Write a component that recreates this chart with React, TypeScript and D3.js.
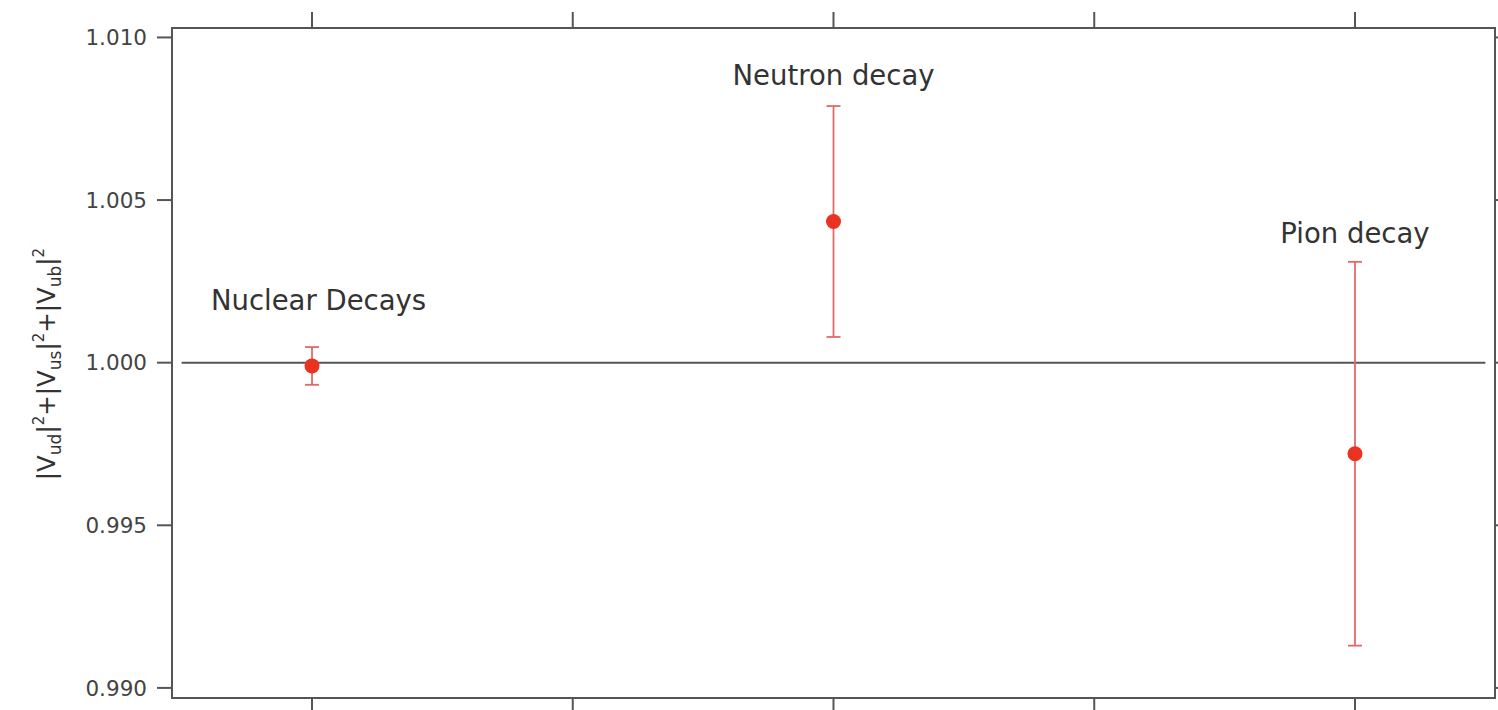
import React from "react";
import * as d3 from "d3";

const categories = ["Nuclear Decays", "Neutron decay", "Pion decay"];
const positions = [0, 2, 4];
const values = [0.9999, 1.00434, 0.9972];
const errors = [0.00058, 0.00355, 0.0059];
const labelValues = [1.00162, 1.00854, 1.00368];
const labelPositions = [0.025, 0.0, 0.0];
const xTicks = [0, 1, 2, 3, 4];
const yTicks = [0.99, 0.995, 1.0, 1.005, 1.01];

const W = 1498;
const H = 710;
const frame = { left: 172, right: 1495, top: 28, bottom: 698 };

export default function App() {
  const x = d3.scaleLinear().domain([-0.537, 4.537]).range([frame.left, frame.right]);
  const y = d3.scaleLinear().domain([0.98969, 1.01029]).range([frame.bottom, frame.top]);
  const axisColor = "#555";
  const red = "#e9321f";
  const barRed = "#e06a66";
  const font = "'DejaVu Sans', Verdana, sans-serif";
  const fmt = d3.format(".3f");

  return (
    <svg width={W} height={H} style={{ position: "absolute", left: 0, top: 0, background: "#fff" }} fontFamily={font}>
      <line x1={x(-0.5)} x2={x(4.5)} y1={y(1)} y2={y(1)} stroke={axisColor} strokeWidth={2} />
      <rect x={frame.left} y={frame.top} width={frame.right - frame.left} height={frame.bottom - frame.top} fill="none" stroke={axisColor} strokeWidth={2} />
      {yTicks.map((t) => (
        <g key={t}>
          <line x1={frame.left - 15} x2={frame.left} y1={y(t)} y2={y(t)} stroke={axisColor} strokeWidth={2} />
          <line x1={frame.right} x2={frame.right + 15} y1={y(t)} y2={y(t)} stroke={axisColor} strokeWidth={2} />
          <text x={frame.left - 25} y={y(t)} dy="0.36em" textAnchor="end" fontSize={21.5} fill="#444">{fmt(t)}</text>
        </g>
      ))}
      {xTicks.map((t) => (
        <g key={t}>
          <line x1={x(t)} x2={x(t)} y1={frame.top - 16} y2={frame.top} stroke={axisColor} strokeWidth={2} />
          <line x1={x(t)} x2={x(t)} y1={frame.bottom} y2={frame.bottom + 16} stroke={axisColor} strokeWidth={2} />
        </g>
      ))}
      <text transform={`translate(55,${364}) rotate(-90)`} textAnchor="middle" fontSize={24.5} fill="#333">
        <tspan>|V</tspan>
        <tspan fontSize={17} dy={6}>ud</tspan>
        <tspan dy={-6}>|</tspan>
        <tspan fontSize={15} dy={-11}>2</tspan>
        <tspan dy={11}>+|V</tspan>
        <tspan fontSize={17} dy={6}>us</tspan>
        <tspan dy={-6}>|</tspan>
        <tspan fontSize={15} dy={-11}>2</tspan>
        <tspan dy={11}>+|V</tspan>
        <tspan fontSize={17} dy={6}>ub</tspan>
        <tspan dy={-6}>|</tspan>
        <tspan fontSize={15} dy={-11}>2</tspan>
      </text>
      {categories.map((c, i) => {
        const cx = x(positions[i]);
        const top = y(values[i] + errors[i]);
        const bot = y(values[i] - errors[i]);
        return (
          <g key={c}>
            <line x1={cx} x2={cx} y1={top} y2={bot} stroke={barRed} strokeWidth={1.8} />
            <line x1={cx - 7} x2={cx + 7} y1={top} y2={top} stroke={barRed} strokeWidth={1.8} />
            <line x1={cx - 7} x2={cx + 7} y1={bot} y2={bot} stroke={barRed} strokeWidth={1.8} />
            <circle cx={cx} cy={y(values[i])} r={7.5} fill={red} />
            <text x={x(positions[i] + labelPositions[i])} y={y(labelValues[i])} textAnchor="middle" fontSize={27.5} fill="#333">{c}</text>
          </g>
        );
      })}
    </svg>
  );
}
